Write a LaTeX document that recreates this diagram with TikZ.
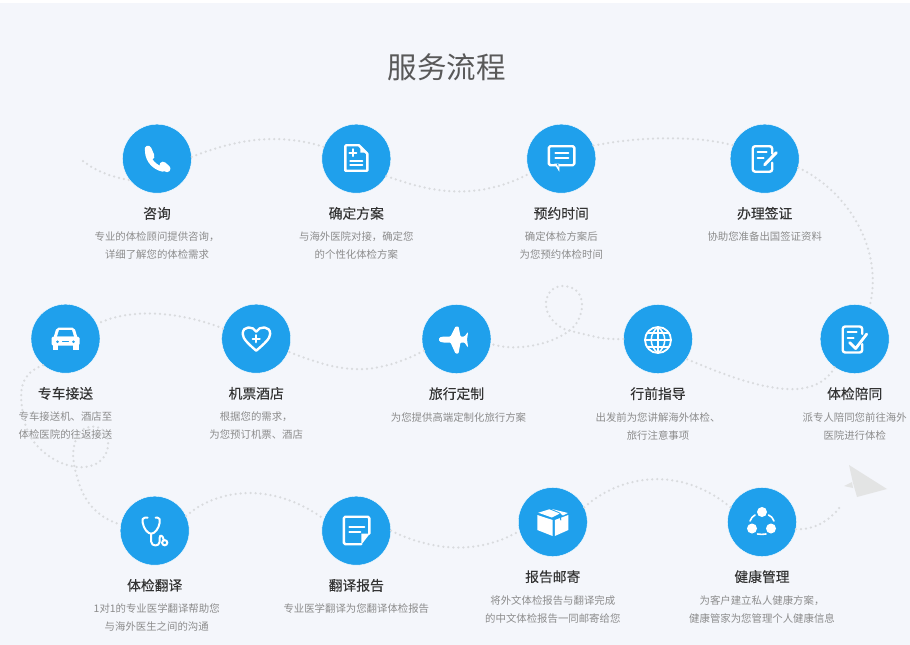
\documentclass[tikz,border=0pt]{standalone}
\usepackage{fontspec}
\setmainfont{Noto Sans CJK SC}
\newfontfamily\headfont[FakeBold=0.15]{Noto Sans CJK SC}
\usetikzlibrary{positioning}
\definecolor{pagebg}{HTML}{F4F6FB}
\definecolor{badge}{HTML}{1FA0EC}
\definecolor{trailgray}{HTML}{D9DBDE}
\definecolor{planegray}{HTML}{E3E4E4}
\tikzset{
stop/.style={draw=white,line width=.4pt,fill=badge,circle,minimum size=69pt,inner sep=0pt},
heading/.style={below=13pt of #1,font=\headfont\fontsize{13.8}{16}\selectfont,text=black!80,inner sep=0pt,text height=12pt,text depth=2pt},
desc/.style={below=11pt of #1,font=\fontsize{10.4}{18}\selectfont,text=black!45,inner sep=0pt,align=center},
trail/.style={draw=trailgray,line width=2.5pt,line cap=round,dash pattern=on 0pt off 5pt},
iconline/.style={draw=white,line width=2pt,line cap=round,line join=round},
iconcut/.style={draw=badge,line width=1.6pt,line cap=round}
}
\begin{document}
\begin{tikzpicture}[x=1pt,y=-1pt]
\useasboundingbox(0,0)rectangle(910,645);
\fill[pagebg](0,3)rectangle(910,645);
\node[font=\fontsize{29.5}{32}\selectfont,text=black!65,inner sep=0pt](title)at(446.5,67){服务流程};
\coordinate(start)at(83,161);
\coordinate(finish)at(840,507);
\node[stop](consult)at(157,158.7){};
\node[stop](plan)at(356.3,158.7){};
\node[stop](book)at(561.3,158.7){};
\node[stop](visa)at(764.7,158.7){};
\node[stop](car)at(65.5,338.7){};
\node[stop](hotel)at(256.2,338.7){};
\node[stop](trip)at(456.5,339){};
\node[stop](guide)at(658,339){};
\node[stop](escort)at(854.7,339){};
\node[stop](transl)at(154.7,530.7){};
\node[stop](report)at(356.3,530.7){};
\node[stop](mail)at(552.8,522){};
\node[stop](health)at(762,522){};
\node[heading=consult](consulth){咨询};
\node[desc=consulth](consultd){专业的体检顾问提供咨询，\\详细了解您的体检需求};
\node[heading=plan](planh){确定方案};
\node[desc=planh](pland){与海外医院对接，确定您\\的个性化体检方案};
\node[heading=book](bookh){预约时间};
\node[desc=bookh](bookd){确定体检方案后\\为您预约体检时间};
\node[heading=visa](visah){办理签证};
\node[desc=visah](visad){协助您准备出国签证资料};
\node[heading=car](carh){专车接送};
\node[desc=carh](card){专车接送机、酒店至\\体检医院的往返接送};
\node[heading=hotel](hotelh){机票酒店};
\node[desc=hotelh](hoteld){根据您的需求，\\为您预订机票、酒店};
\node[heading=trip](triph){旅行定制};
\node[desc=triph,xshift=2pt](tripd){为您提供高端定制化旅行方案};
\node[heading=guide](guideh){行前指导};
\node[desc=guideh](guided){出发前为您讲解海外体检、\\旅行注意事项};
\node[heading=escort](escorth){体检陪同};
\node[desc=escorth](escortd){派专人陪同您前往海外\\医院进行体检};
\node[heading=transl](translh){体检翻译};
\node[desc=translh,xshift=2pt](transld){1对1的专业医学翻译帮助您\\与海外医生之间的沟通};
\node[heading=report](reporth){翻译报告};
\node[desc=reporth](reportd){专业医学翻译为您翻译体检报告};
\node[heading=mail](mailh){报告邮寄};
\node[desc=mailh](maild){将外文体检报告与翻译完成\\的中文体检报告一同邮寄给您};
\node[heading=health](healthh){健康管理};
\node[desc=healthh](healthd){为客户建立私人健康方案，\\健康管家为您管理个人健康信息};
\draw[trail](start).. controls (97,172) and (112,177) ..(consult.218);
\draw[trail](consult.3).. controls (225,144) and (270,130) ..(plan.160);
\draw[trail](plan.-30).. controls (420,188) and (470,205) ..(book.205);
\draw[trail](book.22).. controls (630,138) and (690,134) ..(visa.157);
\draw[trail](visa.-15).. controls (850,192) and (884,252) ..(escort.65);
\draw[trail](escort.-125).. controls (815,400) and (770,395) ..(guide.-35);
\draw[trail](guide.180).. controls (600,340) and (590,335) ..(566,330).. controls (535,315) and (545,286) ..(562,286).. controls (590,286) and (585,320) ..(569,331).. controls (550,345) and (515,352) ..(trip.-8);
\draw[trail](trip.200).. controls (370,378) and (340,372) ..(hotel.-22);
\draw[trail](hotel.163).. controls (190,315) and (135,305) ..(car.25);
\draw[trail](car.-130).. controls (15,375) and (20,400) ..(25,423).. controls (35,465) and (100,485) ..(108,447).. controls (110,425) and (90,422) ..(80,432).. controls (68,450) and (75,470) ..(78,480).. controls (85,505) and (100,518) ..(transl.170);
\draw[trail](transl.25).. controls (215,490) and (270,480) ..(report.160);
\draw[trail](report.0).. controls (420,545) and (470,560) ..(mail.-165);
\draw[trail](mail.25).. controls (620,475) and (680,465) ..(health.155);
\draw[trail](health.-12).. controls (815,530) and (830,520) ..(finish);
\fill[planegray](849,465)--(887,489)--(857,497)--(853,483)--cycle;
\fill[planegray](844,486)--(852,482)--(853,488)--cycle;
\begin{scope}[shift={(consult.center)}]
\draw[iconline,line width=7pt](-9,-9.5)--(-6,-2.5);
\draw[iconline,line width=7pt](6,6.5)--(10,10);
\draw[iconline,line width=5pt](-9.5,-7).. controls (-9,2) and (-2,9) ..(6,10.5);
\end{scope}
\begin{scope}[shift={(plan.center)}]
\draw[iconline,line width=2.4pt](2.5,-13.5)--(-10,-13.5)--(-11,-12.5)--(-11,12)--(11,12)--(11,-5)--cycle;
\fill[white](4,-13)--(4,-6)--(11,-6)--cycle;
\draw[iconline,line width=1.9pt](-7,-6)--(0,-6)(-3.5,-9.5)--(-3.5,-2.5);
\draw[iconline,line width=2.2pt](-6,2)--(6,2)(-6,6.5)--(6,6.5);
\end{scope}
\begin{scope}[shift={(book.center)}]
\draw[iconline,line width=2.4pt,rounded corners=1.5pt](-12.5,-12.5)rectangle(13,6.5);
\fill[white](-7,5)--(-2,13)--(-2,5)--cycle;
\fill[badge](-4.5,5.2)--(-3,8.5)--(-3,5.2)--cycle;
\draw[iconline](-6,-6)--(7,-6)(-6,-1)--(7,-1);
\end{scope}
\begin{scope}[shift={(visa.center)}]
\draw[iconline,line width=2.4pt,rounded corners=2.5pt](7.5,-5)--(7.5,-12.5)--(-12,-12.5)--(-12,13)--(7.5,13)--(7.5,4);
\draw[iconline](-7,-7)--(2,-7)(-7,-1)--(-1,-1);
\draw[iconline,line width=3pt](0,6)--(11.5,-6);
\end{scope}
\begin{scope}[shift={(car.center)}]
\fill[white,rounded corners=2pt](-12,-1)--(-9,-11)--(9,-11)--(12,-1)--cycle;
\fill[badge](-6.5,-8.5)--(6.5,-8.5)--(8.5,-2)--(-8.5,-2)--cycle;
\fill[white,rounded corners=1.5pt](-14,-2)rectangle(14,7);
\fill[white](-13,5)rectangle(-7.5,11);
\fill[white](7.5,5)rectangle(13,11);
\draw[iconcut,line width=2.6pt](-8,3)--(-8,3.1)(8,3)--(8,3.1);
\draw[iconcut,line width=1pt](-3,3)--(3,3);
\end{scope}
\begin{scope}[shift={(hotel.center)}]
\draw[iconline,line width=2.4pt](0,12).. controls (-8,5) and (-13.5,0) ..(-13.5,-5).. controls (-13.5,-13) and (-3,-13) ..(0,-7).. controls (3,-13) and (14,-13) ..(14,-5).. controls (14,0) and (8,5) ..(0,12)--cycle;
\draw[iconline,line width=2.2pt](-3.5,0)--(3.5,0)(0,-3.5)--(0,3.5);
\end{scope}
\begin{scope}[shift={(trip.center)}]
\fill[white,rounded corners=.8pt](-17.5,.5).. controls (-17.5,-1.5) and (-15,-2.5) ..(-12,-2.5)--(-6,-2.5)--(-1,-12.5)--(2,-12.5)--(4,-2.5)--(8,-2.5)--(11,-6.5)--(11.5,-6)--(10.5,.5)--(11.5,7.5)--(11,8)--(8,3.5)--(4,3.5)--(2,14.5)--(-1,14.5)--(-6,3.5)--(-12,3.5).. controls (-15,3.5) and (-17.5,2.5) ..(-17.5,.5)--cycle;
\end{scope}
\begin{scope}[shift={(guide.center)}]
\draw[iconline,line width=1.8pt](0,1)circle[radius=13];
\draw[iconline,line width=1.5pt](-13,1)--(13,1)(-11,-6)--(11,-6)(-11,8)--(11,8)(0,-12)--(0,14);
\draw[iconline,line width=1.5pt](0,-12).. controls (-9,-5) and (-9,7) ..(0,14).. controls (9,7) and (9,-5) ..(0,-12);
\end{scope}
\begin{scope}[shift={(escort.center)}]
\draw[iconline,line width=2.4pt,rounded corners=2.5pt](7.5,-5)--(7.5,-12.5)--(-12,-12.5)--(-12,13.5)--(7.5,13.5)--(7.5,5);
\draw[iconline](-7,-7)--(2,-7)(-7,-1)--(-1,-1);
\draw[iconline,line width=2.8pt](-5,3.5)--(1,9.5)--(12,-5);
\end{scope}
\begin{scope}[shift={(transl.center)}]
\draw[iconline](-7,-13)--(-10,-13).. controls (-12.5,-13) and (-12.5,-11) ..(-12,-8).. controls (-11,-2) and (-7,3) ..(-3.5,3).. controls (0,3) and (4,-2) ..(5,-8).. controls (5.5,-11) and (5,-13) ..(3,-13)--(1,-13);
\draw[iconline](-3.5,3)--(-3.5,11).. controls (-3.5,16) and (5,16) ..(5,11)--(5,7).. controls (5,4) and (8,4) ..(9,9);
\draw[white,line width=2pt](10,12)circle[radius=2.6];
\end{scope}
\begin{scope}[shift={(report.center)}]
\draw[iconline,line width=2.4pt,rounded corners=1.5pt](13,3)--(13,-14)--(-12.5,-14)--(-12.5,13.5)--(5,13.5);
\fill[white](13.5,3)--(5,14)--(5,3)--cycle;
\draw[iconline](-7,-4)--(8,-4)(-7,1.5)--(4,1.5);
\end{scope}
\begin{scope}[shift={(mail.center)}]
\fill[white](-15.5,-7)--(-.2,-2)--(-.2,14)--(-15.5,8)--cycle;
\fill[white](2,-2)--(15.5,-7)--(15.5,8)--(2,14)--cycle;
\fill[white](-14.5,-9.3)--(-3.5,-12.7)--(7,-8.5)--(-1,-4.5)--cycle;
\fill[white](-1,-13)--(15,-9)--(10,-6.5)--(6.5,-9.7)--cycle;
\draw[iconcut,line width=1pt](7,-8.5)--(8,-2);
\end{scope}
\begin{scope}[shift={(health.center)}]
\fill[white](0,-10)circle[radius=5];
\fill[white](-10,6.5)circle[radius=5];
\fill[white](9,6.5)circle[radius=5];
\draw[iconline,line width=1.6pt](-12,-1).. controls (-11,-4) and (-9,-6) ..(-7,-7);
\draw[iconline,line width=1.6pt](6.5,-7).. controls (9,-6) and (11,-4) ..(12,-1);
\draw[iconline,line width=1.6pt](-4.5,12).. controls (-2,12.5) and (1,12.5) ..(4,12);
\end{scope}
\end{tikzpicture}
\end{document}
